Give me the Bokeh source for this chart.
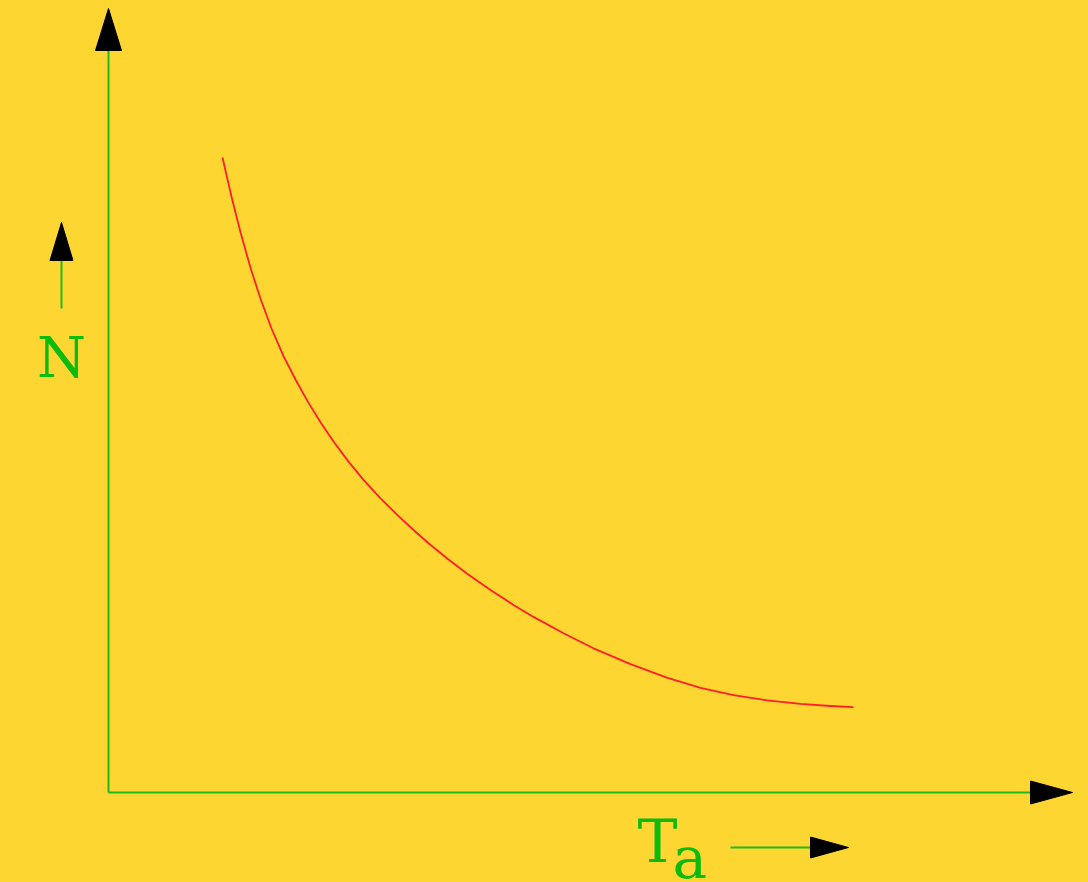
from bokeh.plotting import figure
from bokeh.models import Range1d, GlobalInlineStyleSheet
from bokeh.core.properties import value
from bokeh.embed import file_html
from bokeh.resources import INLINE

# ---- data (axis units: Ta horizontal, N vertical) ----
Ta = [11.4, 12.3, 13.2, 14.2, 15.2, 16.3, 17.5, 18.7, 19.9, 21.2, 22.5, 24.0, 25.5, 27.2,
      28.9, 30.5, 32.0, 33.9, 35.9, 38.2, 40.5, 42.5, 45.5, 48.5, 52.2, 55.9, 59.2, 62.5,
      65.9, 69.2, 72.2, 74.5]
N = [63.5, 59.58, 56.02, 52.47, 49.37, 46.4, 43.64, 41.3, 39.14, 37.02, 35.1, 33.09, 31.26,
     29.41, 27.74, 26.25, 24.93, 23.37, 21.85, 20.24, 18.76, 17.56, 15.92, 14.42, 12.83,
     11.46, 10.47, 9.74, 9.21, 8.86, 8.65, 8.53]
x_label_main = "T"
x_label_sub = "a"
y_label = "N"

# axis extents (in axis units)
x_axis_end = 92.2
y_axis_end = 74.2

BG = "#FED632"
GREEN = "#1DB91D"
TEXT_GREEN = "#0DBB0D"
RED = "#FF1E2A"

W, H = 1088, 882
p = figure(width=W, height=H, output_backend="svg", toolbar_location=None,
           x_range=Range1d(-10.8, 98.0), y_range=Range1d(-9.0, 79.2),
           min_border=0, min_border_left=0, min_border_right=0,
           min_border_top=0, min_border_bottom=0)
p.axis.visible = False
p.grid.visible = False
p.outline_line_color = None
p.background_fill_color = BG
p.border_fill_color = BG
p.stylesheets = [GlobalInlineStyleSheet(css="html, body { background: #FED632; overflow: hidden; }")]

# axes lines
p.segment(x0=[0, 0], y0=[0, 0], x1=[x_axis_end, 0], y1=[0, y_axis_end],
          line_color=GREEN, line_width=2)
# arrow heads of main axes
hx, hy = 4.2, 4.2
p.patches(xs=[[x_axis_end, x_axis_end, x_axis_end + hx], [-1.3, 1.3, 0]],
          ys=[[-1.15, 1.15, 0], [y_axis_end, y_axis_end, y_axis_end + hy]],
          fill_color="black", line_color="black", line_width=1)

# curve
p.line(Ta, N, line_color=RED, line_width=1.8, line_join="round")

# N label with small arrow
nx = -4.7
p.segment(x0=[nx], y0=[48.4], x1=[nx], y1=[53.2], line_color=GREEN, line_width=2)
p.patch(x=[nx - 1.15, nx + 1.15, nx], y=[53.2, 53.2, 57.0],
        fill_color="black", line_color="black", line_width=1)
p.text(x=[nx], y=[43.5], text=[y_label], text_font=value("DejaVu Serif"),
       text_font_size="56px", text_color=TEXT_GREEN, text_align="center",
       text_baseline="alphabetic")

# Ta label with arrow
p.text(x=[52.9], y=[-4.8], text=[x_label_main], text_font=value("DejaVu Serif"),
       text_font_size="60px", text_color=TEXT_GREEN, text_align="left",
       text_baseline="alphabetic")
p.text(x=[56.4], y=[-6.5], text=[x_label_sub], text_font=value("DejaVu Serif"),
       text_font_size="58px", text_color=TEXT_GREEN, text_align="left",
       text_baseline="alphabetic")
p.segment(x0=[62.2], y0=[-5.5], x1=[70.2], y1=[-5.5], line_color=GREEN, line_width=2)
p.patch(x=[70.2, 70.2, 74.0], y=[-4.45, -6.55, -5.5],
        fill_color="black", line_color="black", line_width=1)

open("out.html", "w").write(file_html(p, INLINE))
